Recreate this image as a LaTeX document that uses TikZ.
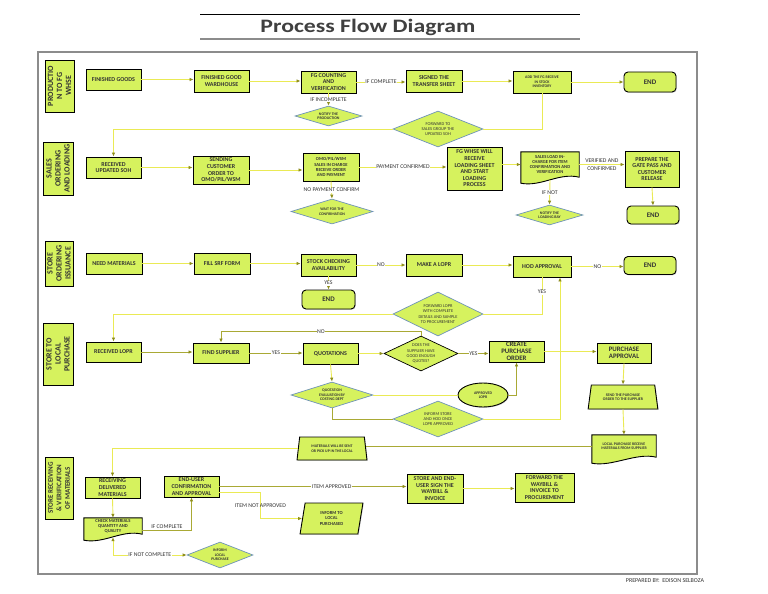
\documentclass[tikz,border=0pt]{standalone}
\usepackage{fontspec}
\setmainfont{Carlito}
\newfontfamily\titlefont[FakeStretch=1.25]{Carlito}
\usepackage{xcolor}
\usepackage{tikz}
\usetikzlibrary{arrows.meta,calc,backgrounds,shapes.geometric,shadows}
\definecolor{boxgreen}{HTML}{D6F25E}
\definecolor{textgray}{HTML}{333333}
\definecolor{titlegray}{HTML}{404040}
\definecolor{diamondblue}{HTML}{6F93B8}
\definecolor{linkyellow}{HTML}{EAEA55}
\definecolor{linkolive}{HTML}{A9A935}
\definecolor{arrowolive}{HTML}{8E8E1C}
\definecolor{framegray}{HTML}{8C8C8C}
\newcommand{\boxfont}{\fontsize{6}{6.6}\selectfont\bfseries}
\newcommand{\bigboxfont}{\fontsize{6.8}{6.8}\selectfont\bfseries}
\newcommand{\smallboxfont}{\fontsize{4.6}{5.2}\selectfont\bfseries}
\newcommand{\tinyboxfont}{\fontsize{3.9}{4.5}\selectfont\bfseries}
\newcommand{\diafont}{\fontsize{4.4}{5.2}\selectfont}
\newcommand{\lblfont}{\fontsize{5.8}{6.4}\selectfont}
\newcommand{\lanefont}{\fontsize{8}{9}\selectfont\bfseries}
\newcommand{\termfont}{\fontsize{7}{8}\selectfont\bfseries}
\newcommand{\docoutline}[1]{%
  \filldraw[fill=boxgreen, draw=black, line width=0.9pt]
    (#1.north west) -- (#1.north east) -- (#1.south east)
    .. controls ([xshift=-20pt,yshift=5pt]#1.south east) and ([xshift=20pt,yshift=-10pt]#1.south west) ..
    ([yshift=-6pt]#1.south west) -- cycle;}

\begin{document}
\begin{tikzpicture}[
    x=1pt, y=-1pt,
    >={Latex[length=4pt,width=3.5pt,color=arrowolive]},
    procbox/.style={rectangle, draw=black, line width=0.9pt, fill=boxgreen, align=center, inner sep=1pt,
        text=textgray, font=\boxfont, drop shadow={shadow xshift=.8pt, shadow yshift=-.8pt, fill=black!35}},
    termbox/.style={procbox, rounded corners=4pt, font=\termfont},
    lanebox/.style={rectangle, draw=black, line width=0.9pt, fill=boxgreen, align=center, inner sep=1pt,
        text=textgray, font=\lanefont, rotate=90},
    decision/.style={diamond, draw=diamondblue, line width=0.7pt, fill=boxgreen, align=center, inner sep=0pt,
        text=textgray, font=\tinyboxfont},
    bigdia/.style={font=\diafont},
    trapbox/.style={trapezium, trapezium stretches=true, draw=black, line width=0.9pt, fill=boxgreen, align=center,
        inner sep=1pt, text=textgray, font=\tinyboxfont, drop shadow={shadow xshift=.8pt, shadow yshift=-.8pt, fill=black!35}},
    docbox/.style={rectangle, align=center, inner sep=1pt, text=textgray, font=\smallboxfont},
    link/.style={draw=linkyellow, line width=0.9pt},
    olink/.style={draw=linkolive, line width=0.9pt},
    flow/.style={link, ->},
    oflow/.style={olink, ->},
    lbl/.style={font=\lblfont, text=textgray, fill=white, inner sep=0.6pt}
]
\useasboundingbox (0,0) rectangle (768,594);
\begin{pgfonlayer}{background}
\fill[white] (0,0) rectangle (768,594);
\end{pgfonlayer}

% title and frame
\draw[line width=1pt] (200,15) -- (580,15);
\draw[framegray, line width=2.6pt] (200,39) -- (580,39);
\node[font=\titlefont\fontsize{19}{22}\selectfont\bfseries, text=titlegray, anchor=base] (title) at (368,33) {Process Flow Diagram};
\draw[framegray, line width=1.2pt] (38,52) rectangle (697,574);
\node[font=\fontsize{6}{7}\selectfont, text=textgray] (preparedby) at (665,581) {PREPARED BY:\ \ EDISON SELBOZA};

% lanes
\node[lanebox, minimum width=52pt, minimum height=29pt] (laneprod) at (59.5,86) {PRODUCTIO\\N TO FG\\WHSE};
\node[lanebox, minimum width=53pt, minimum height=30pt] (lanesales) at (58,168.5) {SALES\\ORDERING\\AND LOADING};
\node[lanebox, minimum width=45pt, minimum height=28pt] (laneorder) at (59,263.5) {STORE\\ORDERING\\ISSUANCE};
\node[lanebox, minimum width=62pt, minimum height=30pt] (lanelocal) at (58,354) {STORE TO\\LOCAL\\PURCHASE};
\node[lanebox, minimum width=62pt, minimum height=28pt, font=\fontsize{7}{8.5}\selectfont\bfseries] (lanerecv) at (59,488) {STORE RECEIVING\\\& VERIFICATION\\OF MATERIALS};

% production to fg whse
\node[procbox, minimum width=55pt, minimum height=21pt] (fingoods) at (113.5,79.5) {FINISHED GOODS};
\node[procbox, minimum width=55pt, minimum height=22pt] (fgwh) at (221.5,81) {FINISHED GOOD\\WARDHOUSE};
\node[procbox, minimum width=55pt, minimum height=22pt] (fgcount) at (328.5,82) {FG COUNTING\\AND\\VERIFICATION};
\node[procbox, minimum width=56pt, minimum height=22pt] (signed) at (434,81) {SIGNED THE\\TRANSFER SHEET};
\node[procbox, minimum width=58pt, minimum height=22pt, font=\tinyboxfont] (addfg) at (542,82) {ADD THE FG RECEIVE\\IN STOCK\\INVENTORY};
\node[termbox, minimum width=52pt, minimum height=20pt] (endprod) at (650,82) {END};
\node[decision, minimum width=67pt, minimum height=20pt, aspect=3.3] (notifyprod) at (328.5,116) {NOTIFY THE\\PRODUCTION};
\node[decision, bigdia, minimum width=90pt, minimum height=36pt, aspect=2.5] (fwdsales) at (438,129) {FORWARD TO\\SALES GROUP THE\\UPDATED SOH};

% sales ordering and loading
\node[procbox, minimum width=55pt, minimum height=21pt] (recsoh) at (113.5,167.5) {RECEIVED\\UPDATED SOH};
\node[procbox, minimum width=56pt, minimum height=28pt] (sendorder) at (221,170) {SENDING\\CUSTOMER\\ORDER TO\\OMO/PIL/WSM};
\node[procbox, minimum width=56pt, minimum height=28pt, font=\smallboxfont] (omorecv) at (331,167) {OMO/PIL/WSM\\SALES IN CHARGE\\RECEIVE ORDER\\AND PAYMENT};
\node[procbox, minimum width=55pt, minimum height=43pt] (fgload) at (474.5,168.5) {FG WHSE WILL\\RECEIVE\\LOADING SHEET\\AND START\\LOADING\\PROCESS};
\node[docbox, minimum width=58pt, minimum height=25pt] (salesload) at (550,164.5) {SALES LOAD IN-\\CHARGE FOR ITEM\\CONFIRMATION AND\\VERIFICATION};
\node[procbox, minimum width=54pt, minimum height=36pt] (gatepass) at (652,169) {PREPARE THE\\GATE PASS AND\\CUSTOMER\\RELEASE};
\node[termbox, minimum width=52pt, minimum height=18pt] (endsales) at (653,215) {END};
\node[decision, minimum width=67pt, minimum height=20pt, aspect=3.3] (notifyload) at (549.5,215) {NOTIFY THE\\LOADING BAY};
\node[decision, minimum width=82pt, minimum height=25pt, aspect=3.3] (waitconf) at (332,211.5) {WAIT FOR THE\\CONFIRMATION};

% store ordering issuance
\node[procbox, minimum width=56pt, minimum height=21pt] (needmat) at (114,263.5) {NEED MATERIALS};
\node[procbox, minimum width=56pt, minimum height=21pt] (srfform) at (222,263.5) {FILL SRF FORM};
\node[procbox, minimum width=55pt, minimum height=22pt] (stockchk) at (328.5,265) {STOCK CHECKING\\AVAILABILITY};
\node[termbox, minimum width=53pt, minimum height=19pt] (endstock) at (328.5,299.5) {END};
\node[procbox, minimum width=56pt, minimum height=22pt] (makelopr) at (434,265) {MAKE A LOPR};
\node[procbox, minimum width=58pt, minimum height=21pt] (hodappr) at (542,266.5) {HOD APPROVAL};
\node[termbox, minimum width=52pt, minimum height=18pt] (endhod) at (650,265.5) {END};
\node[decision, bigdia, minimum width=90pt, minimum height=44pt, aspect=2] (fwdlopr) at (438,314) {FORWARD LOPR\\WITH COMPLETE\\DETAILS AND SAMPLE\\TO PROCUREMENT};

% store to local purchase
\node[procbox, minimum width=55pt, minimum height=20pt] (reclopr) at (113.5,352) {RECEIVED LOPR};
\node[procbox, minimum width=56pt, minimum height=20pt] (findsup) at (221,353) {FIND SUPPLIER};
\node[procbox, minimum width=55pt, minimum height=21pt] (quotes) at (330.5,353.5) {QUOTATIONS};
\node[decision, bigdia, draw=black, minimum width=74pt, minimum height=35pt, aspect=2.1] (goodquote) at (421,353.5) {DOES THE\\SUPPLIER HAVE\\GOOD ENOUGH\\QUOTES?};
\node[procbox, minimum width=55pt, minimum height=21pt, font=\bigboxfont] (createpo) at (516.5,351.5) {CREATE\\PURCHASE\\ORDER};
\node[procbox, minimum width=54pt, minimum height=20pt, font=\bigboxfont] (purchappr) at (624,353) {PURCHASE\\APPROVAL};
\node[trapbox, trapezium left angle=77, trapezium right angle=77, minimum width=70pt, minimum height=24pt] (sendpo) at (623,397) {SEND THE PURCHASE\\ORDER TO THE SUPPLIER};
\node[decision, minimum width=82pt, minimum height=26pt, aspect=3.15] (evalquote) at (332,395) {QUOTATION\\EVALUATION BY\\COSTING DEPT};
\node[procbox, ellipse, minimum width=50pt, minimum height=24pt, font=\tinyboxfont] (apprlopr) at (483,395) {APPROVED\\LOPR};
\node[decision, bigdia, minimum width=90pt, minimum height=36pt, aspect=2.5] (informhod) at (438,419) {INFORM STORE\\AND HOD ONCE\\LOPR APPROVED};

% store receiving and verification
\node[trapbox, trapezium left angle=79, trapezium right angle=79, minimum width=70pt, minimum height=23pt] (matsent) at (332,448.5) {MATERIALS WILL BE SENT\\OR PICK UP IN THE LOCAL};
\node[docbox, minimum width=64pt, minimum height=22pt, font=\tinyboxfont] (lprecv) at (624,446) {LOCAL PURCHASE RECEIVE\\MATERIALS FROM SUPPLIER};
\node[procbox, minimum width=55pt, minimum height=21pt] (recdeliv) at (112.5,487.5) {RECEIVING\\DELIVERED\\MATERIALS};
\node[docbox, minimum width=58pt, minimum height=16pt] (checkmat) at (113,526) {CHECK MATERIALS\\QUANTITY AND\\QUALITY};
\node[procbox, minimum width=55pt, minimum height=21pt] (enduser) at (191.5,486.5) {END-USER\\CONFIRMATION\\AND APPROVAL};
\node[procbox, minimum width=56pt, minimum height=29pt] (waybill) at (435,488.5) {STORE AND END-\\USER SIGN THE\\WAYBILL \&\\INVOICE};
\node[procbox, minimum width=59pt, minimum height=29pt] (fwdwaybill) at (544.5,487.5) {FORWARD THE\\WAYBILL \&\\INVOICE TO\\PROCUREMENT};
\node[trapbox, trapezium left angle=81, trapezium right angle=99, minimum width=63pt, minimum height=31pt, font=\smallboxfont] (informlp) at (331.5,518.5) {INFORM TO\\LOCAL\\PURCHASED};
\node[decision, minimum width=66pt, minimum height=26pt, aspect=2.5] (informlocal) at (220,555) {INFORM\\LOCAL\\PURCHASE};

\begin{pgfonlayer}{background}
\docoutline{salesload}
\docoutline{lprecv}
\docoutline{checkmat}
\end{pgfonlayer}

% connectors
\draw[flow] (fingoods.east) -- (fingoods.east -| fgwh.west);
\draw[flow] (fgwh.east) -- (fgwh.east -| fgcount.west);
\draw[flow] (fgcount.east) -- node[lbl]{IF COMPLETE} (fgcount.east -| signed.west);
\draw[flow] (signed.east) -- (signed.east -| addfg.west);
\draw[flow] (addfg.east) -- (addfg.east -| endprod.west);
\draw[flow] (fgcount.south) -- node[lbl]{IF INCOMPLETE} (notifyprod.north);
\draw[link] (addfg.south) |- (fwdsales.east);
\draw[flow] (fwdsales.west) -| (recsoh.north);

\draw[flow] (recsoh.east) -- (recsoh.east -| sendorder.west);
\draw[flow] (sendorder.east) -- (sendorder.east -| omorecv.west);
\draw[flow] (omorecv.east) -- node[lbl]{PAYMENT CONFIRMED} (omorecv.east -| fgload.west);
\draw[flow] (fgload.east |- salesload.west) -- (salesload.west);
\draw[flow] (salesload.east) -- node[font=\lblfont, text=textgray, align=center]{VERIFIED AND\\[1pt]CONFIRMED} (salesload.east -| gatepass.west);
\draw[flow] (gatepass.south) -- (endsales.north);
\draw[flow] ([yshift=-3pt]salesload.south) -- node[lbl]{IF NOT} (notifyload.north);
\draw[flow] (omorecv.south) -- node[lbl]{NO PAYMENT CONFIRM} (waitconf.north);

\draw[flow] (needmat.east) -- (needmat.east -| srfform.west);
\draw[flow] (srfform.east) -- (srfform.east -| stockchk.west);
\draw[flow] (stockchk.east) -- node[lbl]{NO} (stockchk.east -| makelopr.west);
\draw[flow] (stockchk.south) -- node[lbl]{YES} (endstock.north);
\draw[flow] (makelopr.east) -- (makelopr.east -| hodappr.west);
\draw[flow] (hodappr.east) -- node[lbl]{NO} (hodappr.east -| endhod.west);
\draw[link] (hodappr.south) -- node[lbl, pos=0.4]{YES} (hodappr.south |- fwdlopr.east) -- (fwdlopr.east);
\draw[flow] (fwdlopr.west) -| (reclopr.north);

\draw[oflow] (reclopr.east) -- (reclopr.east -| findsup.west);
\draw[oflow] (findsup.east) -- node[lbl]{YES} (findsup.east -| quotes.west);
\draw[flow] (quotes.east) -- (quotes.east -| goodquote.west);
\draw[oflow] (goodquote.north) -- ++(0,-4) -| node[lbl, pos=0.25]{NO} (findsup.north);
\draw[oflow] (goodquote.east) -- node[lbl]{YES} (goodquote.east -| createpo.west);
\draw[flow] (createpo.east) -- (createpo.east -| purchappr.west);
\draw[flow] (purchappr.south) -- (sendpo.north);
\draw[flow] (sendpo.south) -- (lprecv.north);
\draw[flow] (quotes.south) -- (evalquote.north);
\draw[link] (evalquote.east) -- (apprlopr.west);
\draw[oflow] (apprlopr.east) -| (createpo.south);
\draw[olink] (evalquote.south) |- (informhod.west);
\draw[flow] (informhod.east) -| ([xshift=18pt]hodappr.south);

\draw[olink] (lprecv.west) -- (lprecv.west -| matsent.east);
\draw[flow] (matsent.west) -| (recdeliv.north);
\draw[flow] (recdeliv.south) -- (checkmat.north);
\draw[oflow] ([yshift=-4pt]checkmat.east) -| node[lbl, fill=none, above=0.5pt, pos=0.25]{IF COMPLETE} (enduser.south);
\draw[link, <->] ([yshift=-3pt]checkmat.south) |- node[lbl, pos=0.75]{IF NOT COMPLETE} (informlocal.west);
\draw[oflow] (enduser.east) -- node[lbl, pos=0.6]{ITEM APPROVED} (enduser.east -| waybill.west);
\draw[flow] ([yshift=-6pt]enduser.east) -- ++(41,0) |- node[lbl, fill=none, pos=0.25]{ITEM NOT APPROVED} (informlp.west);
\draw[flow] (waybill.east) -- (waybill.east -| fwdwaybill.west);
\end{tikzpicture}
\end{document}
